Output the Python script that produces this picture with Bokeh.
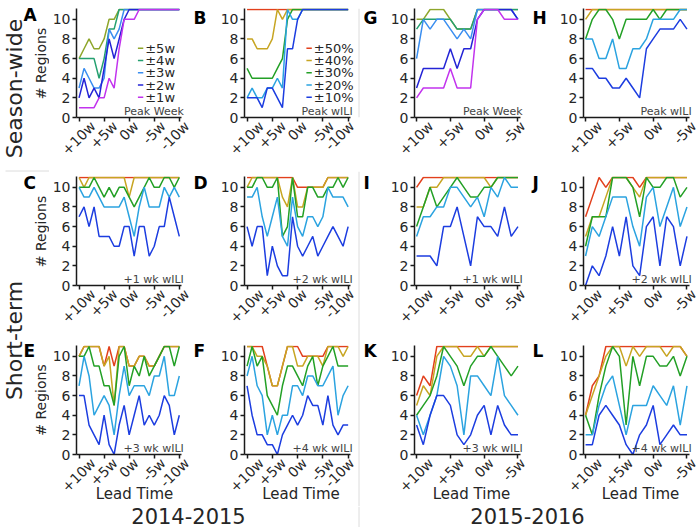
import math
from bokeh.plotting import figure
from bokeh.layouts import row, column
from bokeh.models import Range1d, FixedTicker, Label, LinearAxis
from bokeh.core.properties import value
from bokeh.embed import file_html
from bokeh.resources import INLINE

FONT = "DejaVu Sans"
INK = "#262626"

# ------------------------------------------------------------------ data
weeks_1415 = [10, 9, 8, 7, 6, 5, 4, 3, 2, 1, 0, -1, -2, -3, -4, -5, -6, -7, -8, -9, -10]
weeks_1516 = [10, 9, 8, 7, 6, 5, 4, 3, 2, 1, 0, -1, -2, -3, -4, -5]
ticks_1415 = [10, 5, 0, -5, -10]
ticks_1516 = [10, 5, 0, -5]
tick_text = {10: "+10w", 5: "+5w", 0: "0w", -5: "-5w", -10: "-10w"}
y_ticks = [0, 2, 4, 6, 8, 10]

week_labels = ["±5w", "±4w", "±3w", "±2w", "±1w"]
pct_labels = ["±50%", "±40%", "±30%", "±20%", "±10%"]
week_colors = ["#8ea62b", "#25a070", "#3a8ef0", "#2424d6", "#c233ee"]
pct_colors = ["#e2401c", "#c7a522", "#23a026", "#2ba3e0", "#1c3de0"]

# A: season-wide peak week 2014-2015  (±5w, ±4w, ±3w, ±2w, ±1w)
A_5w = [6, 7, 8, 7, 7, 8, 10, 10, 11, 11, 11, 11, 11, 11, 11, 11, 11, 11, 11, 11, 11]
A_4w = [6, 6, 6, 6, 4, 6, 9, 9, 11, 11, 11, 11, 11, 11, 11, 11, 11, 11, 11, 11, 11]
A_3w = [3, 5, 4, 3, 3, 4, 9, 8, 9, 11, 11, 11, 11, 11, 11, 11, 11, 11, 11, 11, 11]
A_2w = [2, 4, 2, 3, 2, 5, 8, 6, 8, 10, 11, 11, 11, 11, 11, 11, 11, 11, 11, 11, 11]
A_1w = [1, 1, 1, 1, 2, 2, 4, 3, 7, 10, 10, 10, 11, 11, 11, 11, 11, 11, 11, 11, 11]
# B: season-wide peak wILI 2014-2015  (±50%, ±40%, ±30%, ±20%, ±10%)
B_50 = [11, 11, 11, 11, 11, 11, 11, 11, 11, 11, 11, 11, 11, 11, 11, 11, 11, 11, 11, 11, 11]
B_40 = [8, 8, 7, 7, 7, 8, 11, 10, 11, 11, 11, 11, 11, 11, 11, 11, 11, 11, 11, 11, 11]
B_30 = [5, 4, 4, 4, 4, 4, 5, 6, 10, 11, 11, 11, 11, 11, 11, 11, 11, 11, 11, 11, 11]
B_20 = [2, 3, 2, 2, 3, 3, 4, 3, 11, 10, 10, 11, 11, 11, 11, 11, 11, 11, 11, 11, 11]
B_10 = [2, 2, 2, 1, 3, 3, 2, 1, 7, 7, 10, 11, 11, 11, 11, 11, 11, 11, 11, 11, 11]
# C: +1 wk wILI 2014-2015
C_50 = [11, 11, 11, 11, 11, 11, 11, 11, 11, 11, 11, 11, 11, 11, 11, 11, 11, 11, 11, 11, 11]
C_40 = [11, 10, 11, 11, 11, 11, 11, 11, 11, 11, 9, 11, 11, 11, 11, 11, 11, 11, 11, 11, 11]
C_30 = [10, 10, 10, 11, 10, 9, 10, 9, 10, 10, 9, 8, 9, 10, 11, 10, 10, 11, 11, 10, 11]
C_20 = [10, 9, 9, 10, 9, 8, 8, 8, 8, 9, 7, 5, 8, 10, 8, 8, 8, 10, 9, 10, 9]
C_10 = [7, 8, 6, 8, 5, 5, 5, 4, 4, 6, 6, 3, 6, 6, 3, 4, 6, 6, 9, 7, 5]
# D: +2 wk wILI 2014-2015
D_50 = [11, 11, 11, 11, 11, 11, 11, 11, 11, 11, 10, 10, 10, 10, 10, 10, 11, 11, 11, 11, 11]
D_40 = [10, 11, 11, 11, 11, 11, 11, 9, 8, 11, 8, 8, 10, 10, 10, 10, 11, 11, 11, 11, 11]
D_30 = [10, 10, 11, 11, 10, 10, 11, 5, 6, 11, 7, 7, 10, 10, 9, 9, 10, 10, 11, 10, 11]
D_20 = [9, 9, 10, 7, 5, 7, 9, 5, 4, 9, 6, 5, 7, 7, 6, 7, 10, 9, 9, 9, 8]
D_10 = [6, 4, 6, 6, 1, 4, 2, 1, 1, 7, 4, 3, 4, 5, 3, 4, 5, 6, 5, 4, 6]
# E: +3 wk wILI 2014-2015
E_50 = [10, 11, 11, 11, 11, 9, 11, 9, 11, 11, 9, 9, 10, 10, 9, 9, 10, 11, 11, 11, 11]
E_40 = [10, 11, 11, 11, 11, 9, 10, 5, 11, 11, 9, 9, 10, 10, 9, 9, 10, 11, 11, 11, 11]
E_30 = [10, 10, 11, 9, 9, 7, 7, 5, 10, 11, 7, 9, 8, 10, 8, 9, 10, 11, 11, 9, 11]
E_20 = [7, 10, 8, 4, 5, 6, 5, 2, 6, 9, 6, 7, 7, 7, 6, 8, 8, 10, 6, 6, 8]
E_10 = [6, 6, 3, 2, 1, 4, 1, 0, 3, 5, 2, 4, 6, 3, 4, 3, 4, 6, 5, 2, 4]
# F: +4 wk wILI 2014-2015
F_50 = [11, 11, 11, 11, 9, 7, 7, 9, 11, 11, 11, 10, 10, 10, 10, 10, 11, 11, 11, 11, 11]
F_40 = [11, 11, 10, 10, 9, 7, 7, 9, 11, 11, 9, 9, 10, 10, 10, 9, 11, 11, 11, 10, 11]
F_30 = [9, 11, 9, 10, 6, 5, 4, 7, 9, 9, 8, 7, 9, 10, 7, 9, 10, 11, 9, 9, 9]
F_20 = [8, 10, 7, 6, 2, 4, 2, 4, 4, 7, 7, 6, 8, 8, 7, 7, 8, 9, 4, 6, 7]
F_10 = [7, 4, 2, 2, 1, 1, 0, 2, 3, 4, 3, 4, 6, 5, 5, 3, 6, 3, 2, 3, 3]
# G: season-wide peak week 2015-2016
G_5w = [10, 10, 11, 11, 11, 10, 9, 9, 9, 11, 11, 11, 11, 11, 11, 11]
G_4w = [9, 10, 10, 10, 10, 10, 9, 9, 9, 11, 11, 11, 11, 11, 11, 11]
G_3w = [6, 10, 9, 10, 10, 9, 8, 9, 8, 11, 11, 11, 11, 11, 11, 10]
G_2w = [3, 5, 5, 5, 5, 7, 5, 7, 7, 10, 11, 11, 11, 11, 11, 10]
G_1w = [2, 3, 3, 3, 3, 5, 3, 3, 3, 10, 11, 11, 11, 10, 10, 10]
# H: season-wide peak wILI 2015-2016
H_50 = [11, 11, 11, 11, 11, 11, 11, 11, 11, 11, 11, 11, 11, 11, 11, 11]
H_40 = [10, 11, 11, 11, 11, 11, 11, 11, 11, 11, 11, 11, 11, 11, 11, 11]
H_30 = [8, 10, 11, 11, 10, 8, 10, 10, 10, 10, 11, 10, 11, 11, 11, 11]
H_20 = [8, 8, 6, 6, 8, 5, 5, 7, 7, 8, 10, 10, 10, 10, 11, 11]
H_10 = [5, 5, 4, 4, 3, 3, 4, 3, 2, 7, 8, 9, 9, 9, 10, 9]
# I: +1 wk wILI 2015-2016
I_50 = [10, 11, 11, 11, 11, 11, 11, 11, 11, 11, 11, 11, 11, 11, 11, 11]
I_40 = [8, 8, 10, 10, 11, 11, 11, 11, 11, 11, 11, 10, 11, 11, 11, 11]
I_30 = [6, 8, 10, 8, 9, 10, 11, 10, 9, 9, 10, 10, 11, 11, 11, 11]
I_20 = [5, 7, 7, 8, 8, 10, 10, 9, 8, 9, 7, 10, 9, 11, 10, 10]
I_10 = [3, 3, 3, 2, 6, 6, 8, 5, 2, 7, 6, 6, 5, 8, 5, 6]
# J: +2 wk wILI 2015-2016
J_50 = [7, 9, 11, 10, 11, 11, 11, 11, 10, 11, 11, 11, 11, 11, 11, 11]
J_40 = [5, 7, 7, 9, 11, 11, 11, 10, 9, 11, 11, 11, 11, 11, 11, 11]
J_30 = [4, 7, 7, 7, 11, 11, 11, 10, 7, 11, 10, 10, 11, 11, 9, 10]
J_20 = [3, 6, 5, 7, 9, 9, 9, 6, 4, 9, 10, 6, 8, 10, 6, 8]
J_10 = [0, 2, 1, 3, 6, 3, 7, 2, 1, 6, 7, 2, 7, 6, 2, 5]
# K: +3 wk wILI 2015-2016
K_50 = [6, 8, 7, 11, 11, 11, 11, 11, 11, 11, 11, 11, 11, 11, 11, 11]
K_40 = [5, 7, 6, 10, 11, 11, 11, 10, 10, 11, 10, 11, 11, 11, 11, 11]
K_30 = [4, 5, 6, 8, 11, 10, 9, 7, 9, 10, 10, 11, 10, 9, 8, 9]
K_20 = [4, 2, 4, 6, 10, 9, 7, 2, 8, 8, 7, 6, 10, 6, 5, 4]
K_10 = [3, 1, 4, 6, 6, 5, 2, 1, 2, 4, 5, 2, 5, 3, 2, 2]
# L: +4 wk wILI 2015-2016
L_50 = [4, 7, 8, 11, 11, 11, 11, 11, 11, 11, 11, 11, 11, 11, 11, 10]
L_40 = [4, 6, 8, 10, 11, 11, 9, 11, 10, 11, 11, 11, 10, 11, 11, 10]
L_30 = [4, 2, 6, 9, 11, 10, 3, 10, 7, 10, 10, 9, 9, 10, 8, 10]
L_20 = [2, 2, 5, 7, 8, 5, 2, 5, 5, 5, 7, 6, 5, 7, 3, 7]
L_10 = [1, 1, 4, 5, 4, 3, 1, 0, 2, 3, 5, 1, 2, 3, 2, 2]

# ------------------------------------------------------------------ layout
FRAME_H = 109
Y_TOP = 11.1
PX_PER_Y = FRAME_H / Y_TOP
COLS = {
    "A": dict(L=73, R=192, P10=75.6, s=5.143, lb=24, rb=0, bounds=(-10.5, 10.5)),
    "B": dict(L=242, R=357, P10=244.6, s=5.143, lb=25, rb=0, bounds=(-10.5, 10.5)),
    "G": dict(L=412, R=528, P10=414.1, s=6.879, lb=25, rb=0, bounds=(-5.4, 10.3)),
    "H": dict(L=581, R=697, P10=583.1, s=6.879, lb=25, rb=2, bounds=(-5.4, 10.3)),
}
ROWS = {1: (8, 53), 2: (5, 55), 3: (5, 52)}   # (top border, bottom border)
ROW_FRAME_BOTTOM = {1: 117, 2: 285, 3: 454}
TICK_FS = 14
ADV = {"+": 0.838, "-": 0.361, "0": 0.636, "1": 0.636, "5": 0.636, "w": 0.818}
SEP_COLOR = "#dcdcdc"


def label_shift_px(txt):
    # move a 45deg right-anchored label so that its centre sits on the tick
    return sum(ADV[c] for c in txt) * TICK_FS * math.sin(math.pi / 4) / 2


def style_axis(ax):
    ax.major_label_text_font = FONT
    ax.major_label_text_font_size = f"{TICK_FS}px"
    ax.major_label_text_color = INK
    ax.minor_tick_line_color = None


def data_panel(series, colors, season, col, rowi, note, legend_labels=None):
    g = COLS[col]
    weeks = weeks_1415 if season == 1415 else weeks_1516
    ticks = ticks_1415 if season == 1415 else ticks_1516
    x0 = 10 + (g["P10"] - g["L"]) / g["s"]
    x1 = 10 - (g["R"] - g["P10"]) / g["s"]
    top_b, bot_b = ROWS[rowi]
    p = figure(width=g["lb"] + (g["R"] - g["L"]) + g["rb"], height=top_b + FRAME_H + bot_b,
               x_range=Range1d(x0, x1), y_range=Range1d(0, Y_TOP),
               output_backend="svg", toolbar_location=None, min_border=0,
               min_border_left=g["lb"], min_border_right=g["rb"],
               min_border_top=top_b, min_border_bottom=bot_b)
    p.outline_line_color = None
    p.grid.visible = False
    xa, ya = p.xaxis[0], p.yaxis[0]
    for ax in (xa, ya):
        style_axis(ax)
        ax.axis_line_color = "#1a1a1a"
        ax.axis_line_width = 1.5
        ax.major_tick_line_color = "#1a1a1a"
        ax.major_tick_line_width = 1.5
        ax.major_tick_out = 4
        ax.major_tick_in = 0
        ax.major_label_standoff = 2
    # x tick marks only (labels come from a second, label-only axis)
    xa.ticker = FixedTicker(ticks=ticks)
    xa.bounds = g["bounds"]
    xa.major_label_text_color = None
    xa.major_label_text_font_size = "0px"
    xa.major_label_standoff = 0
    anchors = []
    for t in ticks:
        px = g["P10"] + (10 - t) * g["s"] + label_shift_px(tick_text[t])
        px = min(px, g["R"] - 0.5)
        anchors.append(round(10 - (px - g["P10"]) / g["s"], 4))
    lab = LinearAxis(ticker=FixedTicker(ticks=anchors),
                     major_label_overrides={a: tick_text[t] for a, t in zip(anchors, ticks)},
                     axis_line_color=None, major_tick_line_color=None,
                     major_tick_out=0, major_tick_in=0, minor_tick_out=0, minor_tick_in=0,
                     major_label_orientation=math.pi / 4, major_label_standoff=2)
    style_axis(lab)
    if rowi == 3:
        lab.axis_label = "Lead Time"
        lab.axis_label_text_font = FONT
        lab.axis_label_text_font_size = "15px"
        lab.axis_label_text_font_style = "normal"
        lab.axis_label_text_color = INK
        lab.axis_label_standoff = -19
    p.add_layout(lab, "below")
    ya.ticker = FixedTicker(ticks=y_ticks)

    for s, c in zip(series, colors):
        assert len(s) == len(weeks)
        p.line(weeks, s, line_color=c, line_width=1.5)
    p.add_layout(Label(x=g["bounds"][0], y=0, text=note, text_align="right",
                       text_baseline="bottom", text_font=FONT,
                       text_font_size="11px", text_color="#444444",
                       x_offset=2, y_offset=0))
    if legend_labels:
        # compact legend: short line sample + label, rows 12.25 px apart
        fb = ROW_FRAME_BOTTOM[rowi]
        to_x = lambda px: 10 - (px - g["P10"]) / g["s"]
        to_y = lambda py: (fb - py) / PX_PER_Y
        lx0 = g["L"] + 63
        ys = [to_y(47.8 + 12.25 * i) for i in range(len(legend_labels))]
        p.segment(x0=[to_x(lx0)] * len(ys), x1=[to_x(lx0 + 5.5)] * len(ys), y0=ys, y1=ys,
                  line_color=colors, line_width=1.5)
        p.text(x=[to_x(lx0 + 7.5)] * len(ys), y=ys, text=legend_labels,
               text_font=value(FONT), text_font_size="13px", text_color=INK,
               text_align="left", text_baseline="middle")
    return p


def strip(w, h, top, texts, vline_x=None, hline=None, fill="white"):
    # texts: (x local, y page, text, size, bold, angle, align) drawn as annotations
    s = figure(width=w, height=h, x_range=Range1d(0, w), y_range=Range1d(0, h),
               output_backend="svg", toolbar_location=None, min_border=0,
               x_axis_type=None, y_axis_type=None)
    s.outline_line_color = None
    s.background_fill_color = fill
    s.border_fill_color = fill
    if vline_x is not None:
        s.line([vline_x, vline_x], [0, h], line_color=SEP_COLOR, line_width=1)
    if hline is not None:
        hx0, hy = hline
        s.line([hx0, w], [top + h - hy, top + h - hy], line_color=SEP_COLOR, line_width=1)
    for (x, y, t, size, bold, angle, align) in texts:
        s.add_layout(Label(x=x, y=top + h - y, text=t, text_font=FONT,
                           text_font_size=size,
                           text_font_style="bold" if bold else "normal",
                           angle=angle, text_align=align, text_baseline="middle",
                           text_color="black" if bold else INK))
    return s


R90 = math.pi / 2
LET = "17px"
BIG = "22px"
# letter centre (page y) per row
LC1, LC2, LC3 = 14.5, 182.5, 350.5

# panels ------------------------------------------------------------
pA = data_panel([A_5w, A_4w, A_3w, A_2w, A_1w], week_colors, 1415, "A", 1, "Peak Week",
                legend_labels=week_labels)
pB = data_panel([B_50, B_40, B_30, B_20, B_10], pct_colors, 1415, "B", 1, "Peak wILI",
                legend_labels=pct_labels)
pG = data_panel([G_5w, G_4w, G_3w, G_2w, G_1w], week_colors, 1516, "G", 1, "Peak Week")
pH = data_panel([H_50, H_40, H_30, H_20, H_10], pct_colors, 1516, "H", 1, "Peak wILI")
pC = data_panel([C_50, C_40, C_30, C_20, C_10], pct_colors, 1415, "A", 2, "+1 wk wILI")
pD = data_panel([D_50, D_40, D_30, D_20, D_10], pct_colors, 1415, "B", 2, "+2 wk wILI")
pI = data_panel([I_50, I_40, I_30, I_20, I_10], pct_colors, 1516, "G", 2, "+1 wk wILI")
pJ = data_panel([J_50, J_40, J_30, J_20, J_10], pct_colors, 1516, "H", 2, "+2 wk wILI")
pE = data_panel([E_50, E_40, E_30, E_20, E_10], pct_colors, 1415, "A", 3, "+3 wk wILI")
pF = data_panel([F_50, F_40, F_30, F_20, F_10], pct_colors, 1415, "B", 3, "+4 wk wILI")
pK = data_panel([K_50, K_40, K_30, K_20, K_10], pct_colors, 1516, "G", 3, "+3 wk wILI")
pL = data_panel([L_50, L_40, L_30, L_20, L_10], pct_colors, 1516, "H", 3, "+4 wk wILI")

H1 = 8 + FRAME_H + 53
T23 = H1 + 1
H23 = (5 + FRAME_H + 55) + (5 + FRAME_H + 52)
HALL = H1 + 1 + H23

# left strip covering all rows (side titles, y-axis titles, A/C/E letters)
s0 = strip(49, HALL, 0, [(14, 88, "Season-wide", BIG, False, R90, "center"),
                         (14, 340, "Short-term", BIG, False, R90, "center"),
                         (40.5, 63, "# Regions", "14px", False, R90, "center"),
                         (40.5, 231, "# Regions", "14px", False, R90, "center"),
                         (40.5, 399.5, "# Regions", "14px", False, R90, "center"),
                         (23, LC1, "A", LET, True, 0, "left"),
                         (23, LC2, "C", LET, True, 0, "left"),
                         (23, LC3, "E", LET, True, 0, "left")],
           hline=(5, H1 + 0.5))

s1_1 = strip(25, H1, 0, [(1, LC1, "B", LET, True, 0, "left")])
s2_1 = strip(30, H1, 0, [(6, LC1, "G", LET, True, 0, "left")], vline_x=1.5)
s3_1 = strip(28, H1, 0, [(4, LC1, "H", LET, True, 0, "left")])
block1 = row(pA, s1_1, pB, s2_1, pG, s3_1, pH)

s1_23 = strip(25, H23, T23, [(1, LC2, "D", LET, True, 0, "left"),
                             (1, LC3, "F", LET, True, 0, "left")])
s2_23 = strip(30, H23, T23, [(6, LC2, "I", LET, True, 0, "left"),
                             (6, LC3, "K", LET, True, 0, "left")], vline_x=1.5)
s3_23 = strip(28, H23, T23, [(4, LC2, "J", LET, True, 0, "left"),
                             (4, LC3, "L", LET, True, 0, "left")])
block23 = row(column(pC, pE), s1_23, column(pD, pF), s2_23,
              column(pI, pK), s3_23, column(pJ, pL))

sep = strip(650, 1, H1, [], fill=SEP_COLOR)
upper = row(s0, column(block1, sep, block23))

TB = HALL
HB = 527 - TB
bottom = strip(699, HB, TB, [(188, 515, "2014-2015", "21px", False, 0, "center"),
                             (527, 515, "2015-2016", "21px", False, 0, "center")],
               vline_x=358.5)

page = column(upper, bottom)

with open("out.html", "w") as f:
    f.write(file_html(page, INLINE))
